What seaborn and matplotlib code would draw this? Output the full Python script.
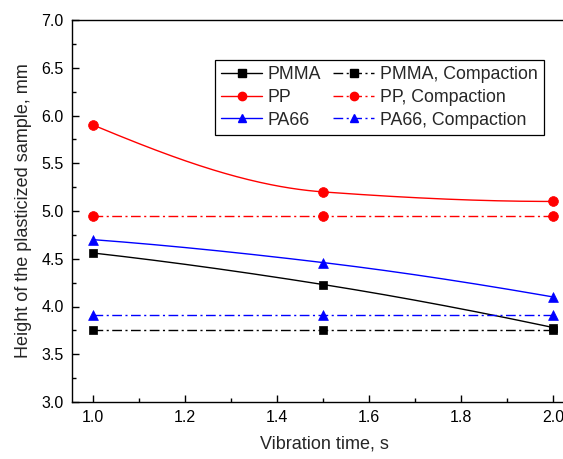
import numpy as np
import pandas as pd
import seaborn as sns
import matplotlib
matplotlib.use("Agg")
import matplotlib.pyplot as plt
from matplotlib.lines import Line2D
from matplotlib.ticker import MultipleLocator

# Measured data
time_s = [1.0, 1.5, 2.0]
pmma = [4.56, 4.23, 3.78]
pp = [5.90, 5.20, 5.10]
pa66 = [4.70, 4.46, 4.10]
pmma_compaction = [3.75, 3.75, 3.75]
pp_compaction = [4.95, 4.95, 4.95]
pa66_compaction = [3.91, 3.91, 3.91]

sns.set_theme(style="white")
plt.rcParams["font.family"] = ["Liberation Sans", "DejaVu Sans"]


def pchip(x, y, xs):
    """Shape-preserving piecewise cubic through the measured points."""
    x = np.asarray(x, float)
    y = np.asarray(y, float)
    h = np.diff(x)
    d = np.diff(y) / h
    n = len(x)
    m = np.zeros(n)
    for k in range(1, n - 1):
        if d[k - 1] * d[k] > 0:
            w1 = 2 * h[k] + h[k - 1]
            w2 = h[k] + 2 * h[k - 1]
            m[k] = (w1 + w2) / (w1 / d[k - 1] + w2 / d[k])
    def end(h0, h1, d0, d1):
        v = ((2 * h0 + h1) * d0 - h0 * d1) / (h0 + h1)
        if np.sign(v) != np.sign(d0):
            v = 0.0
        elif np.sign(d0) != np.sign(d1) and abs(v) > abs(3 * d0):
            v = 3 * d0
        return v
    m[0] = end(h[0], h[1], d[0], d[1])
    m[-1] = end(h[-1], h[-2], d[-1], d[-2])
    out = np.empty_like(xs)
    for i, xv in enumerate(xs):
        k = min(np.searchsorted(x, xv, side="right") - 1, n - 2)
        k = max(k, 0)
        t = (xv - x[k]) / h[k]
        h00 = 2 * t**3 - 3 * t**2 + 1
        h10 = t**3 - 2 * t**2 + t
        h01 = -2 * t**3 + 3 * t**2
        h11 = t**3 - t**2
        out[i] = h00 * y[k] + h10 * h[k] * m[k] + h01 * y[k + 1] + h11 * h[k] * m[k + 1]
    return out


fig = plt.figure(figsize=(5.63, 4.59), dpi=100)
ax = fig.add_axes([72 / 563, 1 - 402 / 459, (576 - 72) / 563, (402 - 20) / 459])

dashdot = (0, (7, 2.5, 1.5, 2.5))
series = [
    ("PMMA", pmma, "black", "s", "-"),
    ("PP", pp, "red", "o", "-"),
    ("PA66", pa66, "blue", "^", "-"),
    ("PMMA, Compaction", pmma_compaction, "black", "s", dashdot),
    ("PP, Compaction", pp_compaction, "red", "o", dashdot),
    ("PA66, Compaction", pa66_compaction, "blue", "^", dashdot),
]
marker_area = {"s": 38, "o": 50, "^": 50}

xs = np.linspace(time_s[0], time_s[-1], 200)
handles = {}
for name, vals, color, marker, ls in series:
    if ls == "-":
        curve = pd.DataFrame({"t": xs, "h": pchip(time_s, vals, xs)})
    else:
        curve = pd.DataFrame({"t": time_s, "h": vals})
    sns.lineplot(data=curve, x="t", y="h", ax=ax, color=color, linewidth=1.0,
                 linestyle=ls, legend=False, estimator=None, sort=False)
    pts = pd.DataFrame({"t": time_s, "h": vals})
    sns.scatterplot(data=pts, x="t", y="h", ax=ax, color=color, marker=marker,
                    s=marker_area[marker], edgecolor=color, linewidth=0.5,
                    legend=False, zorder=5, clip_on=False)
    handles[name] = Line2D([], [], color=color, linewidth=1.0, linestyle=ls,
                           marker=marker, markersize=6)

ax.set_xlim(0.954, 2.05)
ax.set_ylim(3.0, 7.0)
ax.set_xticks([1.0, 1.2, 1.4, 1.6, 1.8, 2.0])
ax.set_xticklabels(["1.0", "1.2", "1.4", "1.6", "1.8", "2.0"])
ax.set_yticks(np.arange(3.0, 7.01, 0.5))
ax.set_yticklabels([f"{v:.1f}" for v in np.arange(3.0, 7.01, 0.5)])
ax.xaxis.set_minor_locator(MultipleLocator(0.1))
ax.yaxis.set_minor_locator(MultipleLocator(0.25))
ax.tick_params(which="both", direction="in", bottom=True, left=True,
               top=False, right=False, colors="black")
ax.tick_params(which="major", length=5, width=1, labelsize=11.5, pad=6)
ax.tick_params(which="minor", length=3, width=1)
for sp in ax.spines.values():
    sp.set_color("black")
    sp.set_linewidth(1.0)

ax.set_xlabel("Vibration time, s", fontsize=13, labelpad=7)
ax.set_ylabel("Height of the plasticized sample, mm", fontsize=13, labelpad=7)

order = ["PMMA", "PP", "PA66", "PMMA, Compaction", "PP, Compaction", "PA66, Compaction"]
leg = ax.legend([handles[k] for k in order], order, ncol=2, fontsize=12.8,
                loc="upper left", bbox_to_anchor=((215 - 72) / (576 - 72), 1 - (60 - 20) / 382),
                frameon=True, fancybox=False, edgecolor="black", framealpha=1,
                handlelength=2.3, handletextpad=0.3, columnspacing=0.7,
                labelspacing=0.32, borderpad=0.35, borderaxespad=0)
leg.get_frame().set_linewidth(0.9)

fig.savefig("out.png", dpi=100)
